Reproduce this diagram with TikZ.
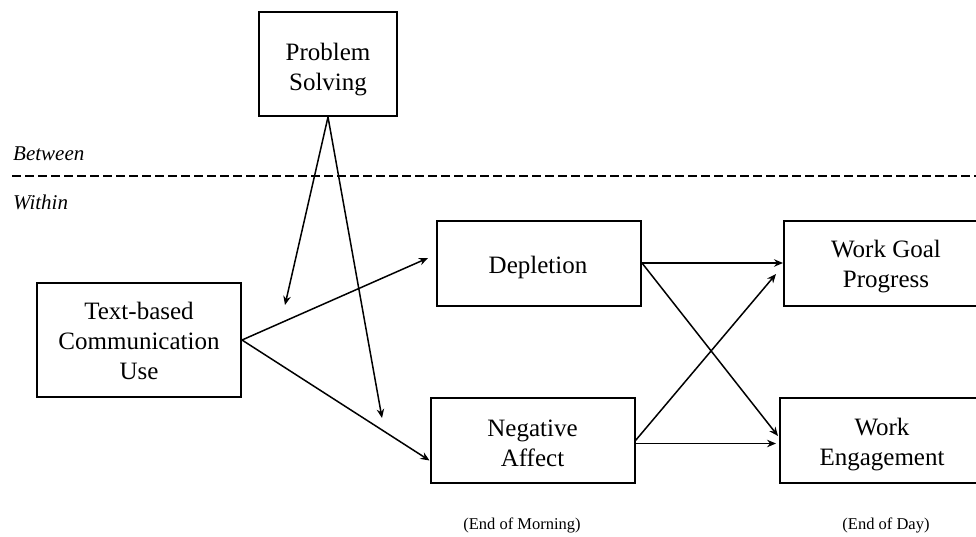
\documentclass[tikz,border=0pt]{standalone}
\usepackage{fontspec}
\setmainfont{Liberation Serif}
\usetikzlibrary{arrows.meta,shadows,calc}
\tikzset{
  boxnode/.style={draw=black, line width=2pt, fill=white, inner sep=0pt,
    drop shadow={shadow xshift=1.2pt, shadow yshift=-1.2pt, opacity=0.35, fill=black!60}},
  boxtext/.style={inner sep=0pt, align=center, font=\fontsize{25}{30}\selectfont},
  arr/.style={line width=1.5pt, -{Stealth[length=9pt,width=7.5pt,inset=3pt]}},
  smalllabel/.style={font=\fontsize{16.5}{18}\selectfont, inner sep=0pt},
  levellabel/.style={font=\fontsize{21}{23}\selectfont\itshape, inner sep=0pt, anchor=west}
}
\begin{document}
\begin{tikzpicture}[x=1pt,y=-1pt]
\path[use as bounding box] (0,0) rectangle (976,536);
\clip (0,0) rectangle (976,536);
% boxes
\node[boxnode, minimum width=138pt, minimum height=104pt] (ps) at (328,64) {};
\node[boxnode, minimum width=204pt, minimum height=114pt] (tcu) at (139,340) {};
\node[boxnode, minimum width=204pt, minimum height=85pt] (dep) at (539,263) {};
\node[boxnode, minimum width=204pt, minimum height=85pt] (na) at (532.5,440.5) {};
\node[boxnode, minimum width=204pt, minimum height=85pt] (wgp) at (886,263) {};
\node[boxnode, minimum width=204pt, minimum height=85pt] (we) at (882,440.5) {};
% box texts
\node[boxtext] (pst) at (328,70) {Problem\\Solving};
\node[boxtext] (tcut) at (139,341) {Text-based\\Communication\\Use};
\node[boxtext] (dept) at (538,267) {Depletion};
\node[boxtext] (nat) at (532.5,443) {Negative\\Affect};
\node[boxtext] (wgpt) at (886,267) {Work Goal\\Progress};
\node[boxtext] (wet) at (882,444.5) {Work\\Engagement};
% level labels and separator
\node[levellabel] (between) at (13,154) {Between};
\node[levellabel] (within) at (13,202) {Within};
\coordinate (dl) at (12,176);
\coordinate (dr) at (976,176);
\draw[line width=2pt, dash pattern=on 8.5pt off 4.5pt] (dl) -- (dr);
% time labels
\node[smalllabel] (morning) at (522,525) {(End of Morning)};
\node[smalllabel] (day) at (886,525) {(End of Day)};
% moderator arrows
\coordinate (m1) at (285,305);
\coordinate (m2) at (382,418);
\draw[arr] (ps.south) -- (m1);
\draw[arr] (ps.south) -- (m2);
% paths
\draw[arr] (tcu.east) -- ([xshift=-8pt,yshift=5pt]dep.west);
\draw[arr] (tcu.east) -- ([yshift=-20pt]na.west);
\draw[arr] (dep.east) -- (wgp.west);
\draw[arr] (dep.east) -- ([xshift=-1pt,yshift=4.5pt]we.west);
\draw[arr] (na.east) -- ([xshift=-7pt,yshift=-11pt]wgp.west);
\draw[arr] ([yshift=-3pt]na.east) -- ([xshift=-3pt,yshift=-3pt]we.west);
\end{tikzpicture}
\end{document}
